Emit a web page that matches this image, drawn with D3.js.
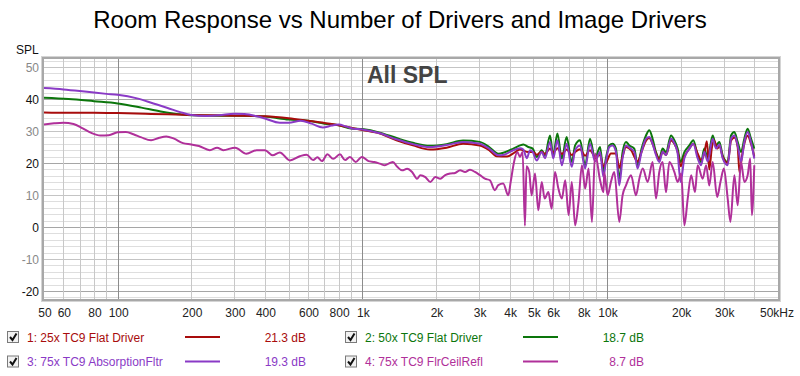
<!DOCTYPE html>
<html>
<head>
<meta charset="utf-8">
<script src="https://cdn.jsdelivr.net/npm/d3@7"></script>
<style>
  body { margin: 0; background: #fff; }
  text { font-family: "Liberation Sans", Arial, sans-serif; }
</style>
</head>
<body>
<svg id="chart" width="800" height="376"></svg>
<script>
// tick labels and grid positions
const xTickVals = [50, 60, 80, 100, 200, 300, 400, 600, 800, 1000, 2000, 3000, 4000, 5000, 6000, 8000, 10000, 20000, 30000, 50000]
const xTickText = ["50", "60", "80", "100", "200", "300", "400", "600", "800", "1k", "2k", "3k", "4k", "5k", "6k", "8k", "10k", "20k", "30k", "50kHz"]
const xGrid = [60, 70, 80, 90, 100, 200, 300, 400, 500, 600, 700, 800, 900, 1000, 2000, 3000, 4000, 5000, 6000, 7000, 8000, 9000, 10000, 20000, 30000, 40000]
const yTickVals = [50, 40, 30, 20, 10, 0, -10, -20]

// series: [Hz, dB]
const flat25 = [[50,35.8],[63,35.7],[80,35.7],[100,35.6],[130,35.4],[160,35.2],[200,35.0],[250,34.9],[300,34.8],[400,34.6],[500,34.0],[600,33.2],[700,32.5],[800,31.8],[900,31.0],[1000,30.3],[1180,29.2],[1380,27.1],[1610,25.5],[1890,24.2],[2210,24.8],[2580,26.0],[3020,25.5],[3300,24.0],[3540,22.1],[3900,22.0],[4140,23.0],[4410,24.2],[4770,23.4],[5000,23.4],[5160,22.6],[5410,23.5],[5580,22.8],[5850,24.5],[6030,23.3],[6270,24.6],[6540,22.8],[6840,24.2],[7180,22.5],[7410,23.4],[7760,24.3],[8140,22.3],[8520,24.0],[8940,22.0],[9370,22.5],[9670,19.0],[9980,20.5],[10380,23.0],[10880,23.0],[11230,18.5],[11580,22.0],[11960,25.0],[12540,24.0],[13340,20.5],[13850,23.5],[14440,27.0],[14890,27.8],[15360,26.0],[15860,23.0],[16360,21.0],[16880,23.5],[17430,22.5],[18270,27.0],[18850,26.0],[19440,23.5],[20000,19.0],[20710,22.0],[21720,24.5],[22530,26.0],[23470,23.0],[24240,21.0],[24990,23.0],[25600,26.8],[26190,18.0],[26800,24.5],[27400,27.0],[28300,24.5],[28800,25.5],[29700,22.0],[31140,20.0],[32140,27.0],[33160,28.0],[34210,25.0],[34800,17.0],[35600,22.0],[36420,26.0],[37580,28.5],[38780,26.0],[40000,22.0]]

const flat50 = [[50,40.4],[63,40.0],[80,39.3],[100,38.6],[125,37.3],[150,36.1],[180,35.2],[200,34.9],[250,34.8],[300,34.8],[400,34.5],[500,33.6],[600,33.2],[700,32.3],[800,31.8],[900,30.8],[1000,30.6],[1180,29.5],[1380,27.8],[1610,26.3],[1890,25.4],[2210,25.9],[2580,27.0],[3020,26.6],[3300,25.0],[3600,22.9],[3800,23.3],[4140,24.5],[4410,25.5],[4550,25.8],[4770,25.0],[4970,24.5],[5160,21.9],[5410,24.0],[5580,22.4],[5850,28.6],[6030,22.4],[6270,29.2],[6540,21.4],[6840,28.1],[7180,20.3],[7410,25.5],[7760,27.1],[8140,19.3],[8520,27.6],[8940,21.4],[9370,25.0],[9670,17.2],[9900,21.5],[10220,25.5],[10540,26.0],[10880,24.5],[11230,15.1],[11580,23.4],[11960,26.6],[12340,25.5],[12930,24.5],[13340,19.3],[13850,24.5],[14440,28.6],[14890,30.2],[15360,27.6],[15860,23.4],[16360,21.4],[16880,24.5],[17430,23.4],[18270,28.6],[18850,27.1],[19440,24.5],[20000,20.3],[20710,23.4],[21720,25.5],[22530,27.1],[23470,22.4],[24240,20.3],[24990,24.5],[25780,21.4],[27040,28.6],[27900,25.5],[28800,26.6],[29700,22.4],[31140,20.3],[32140,28.6],[33160,29.7],[34210,26.6],[35300,23.4],[36420,27.6],[37580,30.7],[38780,27.6],[40000,24.5]]

const absorption = [[50,43.4],[60,43.0],[70,42.5],[80,42.0],[90,41.6],[100,41.3],[120,40.2],[140,38.6],[160,37.2],[180,35.9],[200,35.0],[230,34.7],[260,34.9],[300,35.4],[330,35.3],[370,34.6],[400,33.9],[460,32.6],[500,32.6],[560,33.2],[620,32.3],[690,31.1],[750,31.7],[800,32.0],[860,31.4],[920,30.7],[1000,30.5],[1180,29.3],[1380,27.4],[1610,25.9],[1890,25.0],[2210,25.6],[2580,26.6],[3020,26.0],[3300,24.5],[3600,22.4],[3800,22.6],[4140,24.0],[4410,24.6],[4550,24.2],[4700,21.5],[4850,24.0],[4970,23.5],[5160,20.8],[5410,23.4],[5580,21.5],[5850,26.6],[6030,21.4],[6270,27.1],[6540,19.3],[6840,26.0],[7180,18.8],[7410,24.0],[7760,25.5],[8140,18.3],[8520,26.0],[8940,20.5],[9370,23.4],[9670,15.6],[9900,20.5],[10220,25.0],[10540,25.5],[10880,23.5],[11230,13.0],[11580,21.5],[11960,25.5],[12340,24.8],[12930,23.5],[13340,18.3],[13850,23.5],[14440,27.6],[14890,28.1],[15360,26.0],[15860,22.5],[16360,20.3],[16880,23.5],[17430,22.5],[18270,27.6],[18850,26.2],[19440,23.0],[20000,14.1],[20710,21.5],[21720,24.5],[22530,26.0],[23470,21.5],[24240,19.3],[24990,23.5],[25780,20.5],[27040,27.6],[27900,24.5],[28800,25.8],[29700,21.5],[31140,19.3],[32140,27.6],[33160,28.6],[34210,25.5],[35300,20.3],[36420,26.5],[37580,29.7],[38780,26.5],[40000,21.4]]

const flrCeil = [[50,32.0],[55,32.4],[60,32.6],[66,32.2],[72,30.8],[78,29.4],[85,28.6],[92,28.7],[100,29.6],[108,29.7],[116,29.0],[125,28.0],[137,27.1],[148,27.9],[158,28.3],[170,27.6],[185,26.2],[200,25.8],[215,25.3],[238,24.0],[255,24.8],[270,24.0],[302,24.8],[336,22.9],[370,24.0],[400,24.0],[430,22.4],[460,23.3],[506,20.8],[555,22.1],[592,22.6],[629,20.9],[655,21.8],[684,20.6],[720,22.7],[760,21.3],[810,22.7],[850,20.9],[890,21.9],[940,20.3],[995,21.9],[1060,20.6],[1120,20.3],[1180,19.8],[1236,19.3],[1296,20.0],[1333,20.3],[1390,18.8],[1455,17.7],[1525,18.2],[1597,17.2],[1673,15.1],[1727,16.2],[1810,15.6],[1897,14.1],[1987,15.6],[2082,15.1],[2181,16.2],[2286,16.7],[2395,16.9],[2510,17.7],[2630,17.2],[2755,17.9],[2887,17.2],[3025,16.2],[3170,15.1],[3322,14.6],[3480,11.5],[3595,13.1],[3765,13.6],[3950,9.9],[4040,14.1],[4170,20.3],[4300,23.4],[4410,21.9],[4520,23.4],[4620,0.4],[4690,19.0],[4810,17.2],[4920,9.9],[5080,16.7],[5240,5.2],[5410,14.1],[5560,8.9],[5760,10.9],[5940,5.7],[6130,17.2],[6330,12.0],[6540,8.9],[6750,14.6],[6970,3.7],[7180,14.1],[7410,0.5],[7650,7.8],[7900,19.3],[8140,12.0],[8410,18.3],[8680,1.6],[8940,23.0],[9370,14.6],[9670,10.9],[9750,17.0],[10060,9.9],[10380,14.1],[10710,17.2],[11230,1.6],[11580,9.9],[11960,13.0],[12540,16.2],[13140,9.9],[13560,15.1],[14000,18.3],[14670,14.1],[15360,20.3],[15860,8.9],[16360,17.2],[16880,20.3],[17430,10.9],[17990,20.3],[18850,17.2],[19440,14.1],[20110,16.7],[20710,0.5],[21380,8.9],[22080,16.2],[22900,10.9],[23470,19.3],[24620,15.1],[25420,19.3],[26190,13.0],[27040,20.3],[28200,9.4],[29100,14.1],[30050,18.3],[31140,8.9],[31950,1.6],[33160,16.2],[34210,6.8],[35300,20.3],[36420,14.1],[37580,16.2],[38500,21.4],[39100,3.7],[40000,19.3]]

const legendNames = ["1: 25x TC9 Flat Driver", "2: 50x TC9 Flat Driver", "3: 75x TC9 AbsorptionFltr", "4: 75x TC9 FlrCeilRefl"]
const legendValues = ["21.3 dB", "18.7 dB", "19.3 dB", "8.7 dB"]
const colors = ["#a80c0c", "#0c760c", "#8a3ac6", "#b0309a"]

const svg = d3.select("#chart")
const plot = {left: 44, right: 778, top: 59, bottom: 299}

const x = d3.scaleLog().domain([50, 50000]).range([plot.left, plot.right])
const y = d3.scaleLinear().domain([-22.5, 52.5]).range([plot.bottom, plot.top])

// frame
svg.append("rect").attr("x", plot.left - 3).attr("y", plot.top - 3)
  .attr("width", plot.right - plot.left + 6).attr("height", plot.bottom - plot.top + 6)
  .attr("fill", "#d4d4d4")
svg.append("rect").attr("x", plot.left - 2).attr("y", plot.top - 2)
  .attr("width", plot.right - plot.left + 4).attr("height", plot.bottom - plot.top + 4)
  .attr("fill", "#a8a8a8")
svg.append("rect").attr("x", plot.left).attr("y", plot.top)
  .attr("width", plot.right - plot.left).attr("height", plot.bottom - plot.top)
  .attr("fill", "#fff")

// horizontal grid, every 2 dB
const hLines = d3.range(-22, 53, 2)
svg.append("g").selectAll("line").data(hLines).join("line")
  .attr("x1", plot.left).attr("x2", plot.right)
  .attr("y1", d => Math.round(y(d)) + 0.5).attr("y2", d => Math.round(y(d)) + 0.5)
  .attr("stroke", d => d % 20 == 0 ? "#a6a6a6" : (d % 10 == 0 ? "#c4c4c4" : "#dedede"))
  .attr("stroke-width", 1)

// vertical grid
svg.append("g").selectAll("line").data(xGrid).join("line")
  .attr("x1", d => Math.round(x(d)) + 0.5).attr("x2", d => Math.round(x(d)) + 0.5)
  .attr("y1", plot.top).attr("y2", plot.bottom)
  .attr("stroke", d => [100, 1000, 10000].includes(d) ? "#8c8c8c" : "#c8c8c8")
  .attr("stroke-width", 1)

// y labels
svg.append("text").attr("x", 16).attr("y", 54).attr("font-size", 12).attr("fill", "#111").text("SPL")
svg.append("g").selectAll("text").data(yTickVals).join("text")
  .attr("x", 39).attr("y", d => y(d) + 4.5)
  .attr("text-anchor", "end").attr("font-size", 12)
  .attr("fill", d => d % 20 == 0 ? "#111" : "#888")
  .text(d => d)

// x labels
svg.append("g").selectAll("text").data(xTickVals).join("text")
  .attr("x", (d, i) => i == xTickVals.length - 1 ? x(d) - 1 : x(d) + 1)
  .attr("y", 317)
  .attr("text-anchor", "middle").attr("font-size", 12).attr("fill", "#222")
  .text((d, i) => xTickText[i])

// title
svg.append("text").attr("x", 400).attr("y", 28).attr("text-anchor", "middle")
  .attr("font-size", 24).attr("fill", "#000")
  .text("Room Response vs Number of Drivers and Image Drivers")

svg.append("text").attr("x", 367).attr("y", 83)
  .attr("font-size", 23).attr("font-weight", "bold").attr("fill", "#444")
  .text("All SPL")

// curves
svg.append("clipPath").attr("id", "clip").append("rect")
  .attr("x", plot.left).attr("y", plot.top)
  .attr("width", plot.right - plot.left).attr("height", plot.bottom - plot.top)

const line = d3.line().x(d => x(d[0])).y(d => y(d[1])).curve(d3.curveMonotoneX)
const curves = svg.append("g").attr("clip-path", "url(#clip)")
const order = [[flat50, 1], [flat25, 0], [absorption, 2], [flrCeil, 3]]
order.forEach(o => {
  curves.append("path").datum(o[0])
    .attr("fill", "none").attr("stroke", colors[o[1]])
    .attr("stroke-width", 2).attr("stroke-linejoin", "round")
    .attr("d", line)
})

// legend
const legendPos = [[7, 337], [345, 337], [7, 361.5], [345, 361.5]]
legendPos.forEach((p, i) => {
  const lx = p[0], ly = p[1]
  const g = svg.append("g")
  g.append("rect").attr("x", lx + 0.5).attr("y", ly - 5.5).attr("width", 11).attr("height", 11)
    .attr("fill", "#f2f2f2").attr("stroke", "#7a7a7a")
  g.append("path").attr("d", `M${lx + 3},${ly} L${lx + 5.5},${ly + 3} L${lx + 9.5},${ly - 3.5}`)
    .attr("fill", "none").attr("stroke", "#111").attr("stroke-width", 2)
  g.append("text").attr("x", lx + 20).attr("y", ly + 4.5).attr("font-size", 12)
    .attr("fill", colors[i]).text(legendNames[i])
  g.append("line").attr("x1", lx + 178).attr("x2", lx + 213).attr("y1", ly).attr("y2", ly)
    .attr("stroke", colors[i]).attr("stroke-width", 2)
  g.append("text").attr("x", lx + 299).attr("y", ly + 4.5).attr("font-size", 12)
    .attr("text-anchor", "end").attr("fill", colors[i]).text(legendValues[i])
})
</script>
</body>
</html>
